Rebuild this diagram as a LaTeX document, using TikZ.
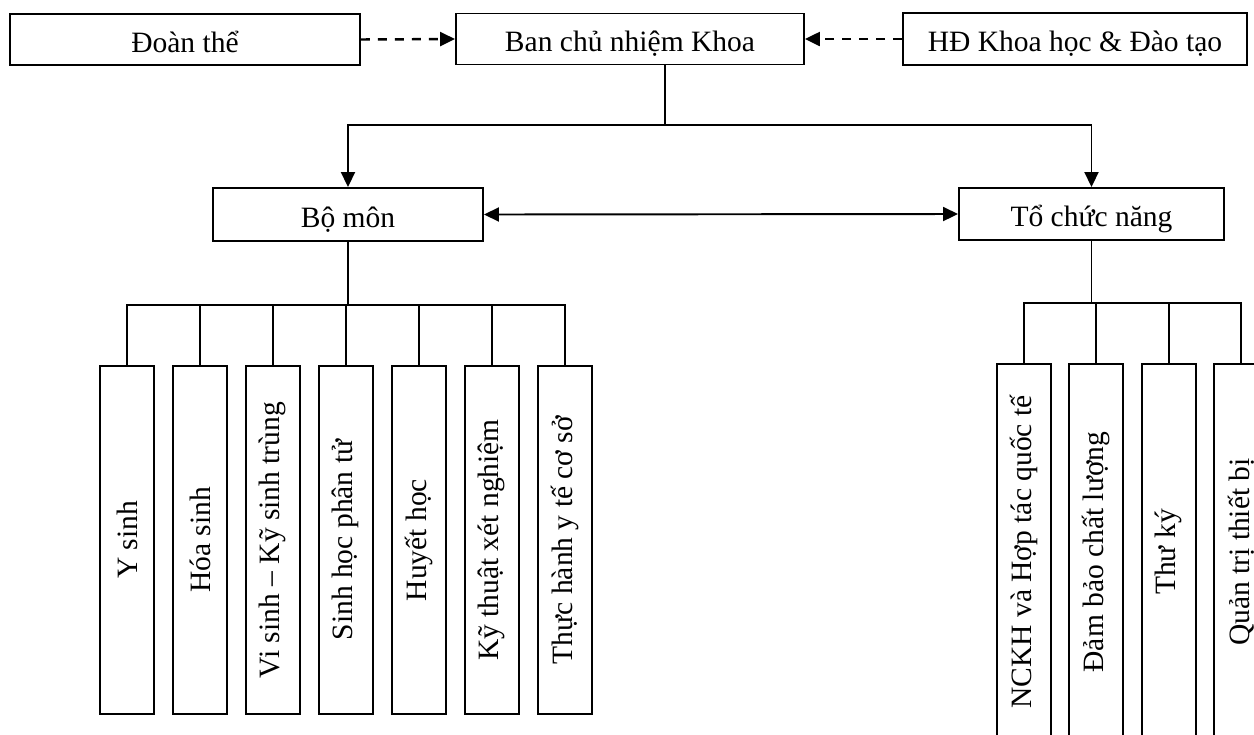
\documentclass[tikz,border=0pt]{standalone}
\usepackage{fontspec}
\setmainfont{Liberation Serif}
\usepackage{graphicx}
\usepackage{tikz}
\usetikzlibrary{calc,positioning,arrows.meta}

\begin{document}
\begin{tikzpicture}[
		line width=1.1pt,
		tip/.style={-{Triangle[length=0.3cm,width=0.28cm]}},
		dashy/.style={tip,line width=1.4pt,dash pattern=on 0.18cm off 0.16cm},
		box/.style={draw,inner sep=0pt,font=\fontsize{16.8}{20}\selectfont},
		head/.style={box,text height=16pt,text depth=1.7pt},
		unit/.style={box,minimum width=1.08cm,minimum height=6.96cm},
		func/.style={box,minimum width=1.08cm,minimum height=7.52cm}]
		\useasboundingbox (0,0) rectangle (25.08,-14.68);
		\clip (0,0) rectangle (25.08,-14.68);
		% top row
		\node(doan) [head,minimum width=7cm,minimum height=1.02cm] at (3.70,-0.79) {Đoàn thể};
		\node(ban) [head,minimum width=6.96cm,minimum height=1.02cm] at (12.60,-0.78) {Ban chủ nhiệm Khoa};
		\node(hd) [head,minimum width=6.88cm,minimum height=1.04cm] at (21.50,-0.78) {HĐ Khoa học \& Đào tạo};
		\draw[dashy] (doan.east) -- (ban.west);
		\draw[dashy] (hd.west) -- (ban.east);

		% second row
		\node(bomon) [head,minimum width=5.40cm,minimum height=1.06cm] at (6.96,-4.29) {Bộ môn};
		\node(tcn) [head,minimum width=5.30cm,minimum height=1.04cm] at (21.83,-4.28) {Tổ chức năng};
		\coordinate (split) at (13.30,-2.50);
		\draw (ban.south -| split) -- (split);
		\draw[tip] (split) -| (bomon.north);
		\draw[tip] (split) -| (tcn.north);
		\draw[{Triangle[length=0.3cm,width=0.28cm]}-{Triangle[length=0.3cm,width=0.28cm]}] (bomon.east) -- (tcn.west);

		% bo mon
		\node(ysinh) [unit] at (2.54,-10.80) {\rotatebox{90}{Y sinh}};
		\node(hoasinh) [unit,right=0.34cm of ysinh] {\rotatebox{90}{Hóa sinh}};
		\node(visinh) [unit,right=0.34cm of hoasinh] {\rotatebox{90}{Vi sinh – Kỹ sinh trùng}};
		\node(shpt) [unit,right=0.34cm of visinh] {\rotatebox{90}{Sinh học phân tử}};
		\node(huyet) [unit,right=0.34cm of shpt] {\rotatebox{90}{Huyết học}};
		\node(ktxn) [unit,right=0.34cm of huyet] {\rotatebox{90}{Kỹ thuật xét nghiệm}};
		\node(thuchanh) [unit,right=0.34cm of ktxn] {\rotatebox{90}{Thực hành y tế cơ sở}};
		\coordinate (bmbus) at ($(bomon.south)+(0,-1.26)$);
		\draw (bomon.south) -- (bmbus);
		\foreach \c in {ysinh,hoasinh,visinh,shpt,huyet,ktxn,thuchanh}
			\draw (bmbus) -| (\c.north);

		% to chuc nang
		\node(nckh) [func] at (20.48,-11.04) {\rotatebox{90}{NCKH và Hợp tác quốc tế}};
		\node(dbcl) [func,right=0.33cm of nckh] {\rotatebox{90}{Đảm bảo chất lượng}};
		\node(thuky) [func,right=0.33cm of dbcl] {\rotatebox{90}{Thư ký}};
		\node(qttb) [func,right=0.33cm of thuky] {\rotatebox{90}{Quản trị thiết bị}};
		\coordinate (tcnbus) at ($(tcn.south)+(0,-1.24)$);
		\draw (tcn.south) -- (tcnbus);
		\foreach \c in {nckh,dbcl,thuky,qttb}
			\draw (tcnbus) -| (\c.north);
	\end{tikzpicture}
\end{document}
